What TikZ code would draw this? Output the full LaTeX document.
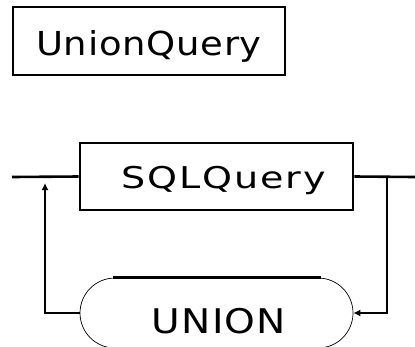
\documentclass[tikz,border=0pt]{standalone}
\usepackage{graphicx}
\usepackage{fontspec}
\setsansfont{DejaVu Sans}
\usetikzlibrary{shapes.misc,arrows.meta,calc}
% label text: size, letter spacing, horizontal stretch
\newcommand{\wide}[4]{\scalebox{#3}[1]{\sffamily\fontsize{#1}{#1}\selectfont\addfontfeatures{LetterSpace=#2}#4}}
\begin{document}
\begin{tikzpicture}[x=1pt,y=-1pt,
  heavy/.style={line width=2.6pt},
  termbox/.style={draw,heavy,rectangle,inner sep=0pt},
  lbl/.style={inner sep=0pt,anchor=base},
  tip/.style={-{Latex[length=7pt 0 0,width=7pt 0 0]}}
]
\useasboundingbox (0,0) rectangle (415,346);

% rule name
\node[termbox,minimum width=272pt,minimum height=68pt] (title) at (149,41) {};
\node[lbl] (titletext) at (149,55) {\wide{33}{2}{1.12}{UnionQuery}};

% nonterminal box
\node[termbox,minimum width=273pt,minimum height=67pt] (sql) at (216.5,176.5) {};
\node[lbl] (sqltext) at (223.5,188) {\wide{30}{5}{1.27}{SQLQuery}};

% terminal (rounded) box
\node[draw,line width=0.7pt,rounded rectangle,minimum width=273pt,minimum height=70pt,inner sep=0pt] (union) at (216.5,313) {};
\draw[heavy] ($(union.north)+(-104,0)$) -- ($(union.north)+(104,0)$);
\node[lbl] (uniontext) at (219,333) {\wide{34}{3}{1.15}{UNION}};

% main track
\coordinate (start) at (12,177);
\coordinate (finish) at (415,177);
\coordinate (loopin) at (45,183);
\coordinate (loopout) at (387,177);
\draw[heavy] (start) -- (sql.west);
\draw[heavy] (sql.east) -- (finish);

% repetition loop through UNION
\draw[heavy,tip] (loopout) |- (union.east);
\draw[heavy,tip] (union.west) -| (loopin);
\end{tikzpicture}
\end{document}
